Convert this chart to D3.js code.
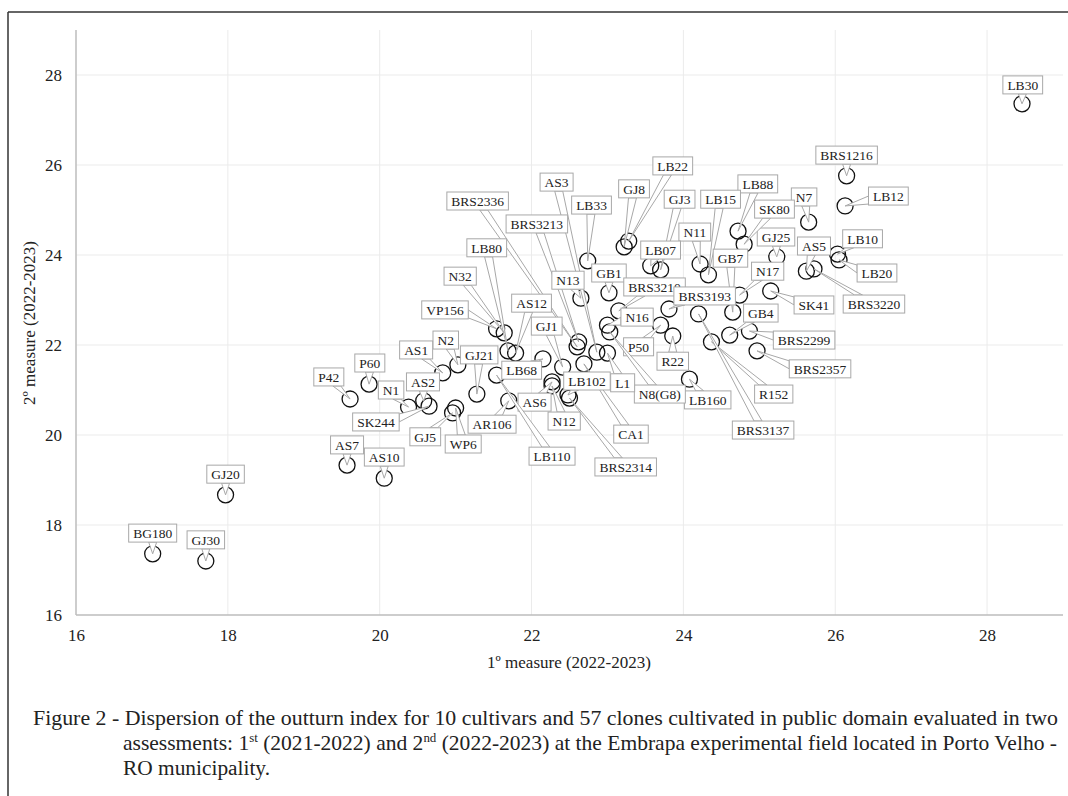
<!DOCTYPE html>
<html>
<head>
<meta charset="utf-8">
<script src="https://cdn.jsdelivr.net/npm/d3@7"></script>
<style>
  body { margin: 0; background: #fff; }
  svg text { font-family: "Liberation Serif", "Times New Roman", serif; fill: #222; }
</style>
</head>
<body>
<svg id="chart" width="1068" height="796"></svg>
<script>
// Clone / cultivar names
const clones = ["LB30","BRS1216","LB12","N7","LB10","LB20","AS5","BRS3220","SK41","GJ25",
  "SK80","LB88","LB15","N11","GJ3","LB07","LB22","GJ8","LB33","AS3",
  "BRS2336","BRS3213","LB80","N32","VP156","AS12","GJ1","N13","GB1","BRS3210",
  "N16","N17","GB7","BRS3193","GB4","BRS2299","BRS2357","R152","BRS3137","LB160",
  "R22","P50","N8(G8)","L1","CA1","BRS2314","LB102","N12","AS6","LB110",
  "LB68","AR106","WP6","GJ5","GJ21","N2","AS1","AS2","SK244","N1",
  "P60","P42","AS7","AS10","GJ20","BG180","GJ30"];

// 1st measure (x)
const measure1 = [28.46,26.15,26.13,25.65,26.03,26.05,25.62,25.72,25.15,25.23,
  24.80,24.72,24.33,24.22,23.70,23.57,23.28,23.22,22.74,22.86,
  22.60,22.62,21.69,21.64,21.54,21.79,22.41,22.65,23.02,23.15,
  23.00,24.74,24.65,23.81,24.61,24.87,24.97,24.37,24.20,24.08,
  23.86,23.70,23.03,23.00,22.69,22.50,22.48,22.27,22.27,21.54,
  22.15,21.70,21.00,20.96,21.28,21.03,20.83,20.58,20.65,20.38,
  19.86,19.61,19.57,20.06,17.97,17.01,17.71];

// 2nd measure (y)
const measure2 = [27.36,25.76,25.09,24.73,24.02,23.89,23.64,23.69,23.20,23.96,
  24.24,24.53,23.56,23.80,23.67,23.76,24.31,24.18,23.87,21.84,
  21.96,22.07,21.87,22.27,22.36,21.82,21.51,23.04,23.16,22.76,
  22.44,23.11,22.73,22.80,22.22,22.31,21.87,22.07,22.69,21.24,
  22.20,22.44,22.29,21.82,21.58,20.82,20.89,21.09,21.18,21.33,
  21.69,20.76,20.60,20.49,20.91,21.56,21.38,20.76,20.64,20.62,
  21.13,20.80,19.33,19.04,18.67,17.36,17.20];

// Callout label anchors, in data units
const calloutX = [28.47,26.15,26.70,25.59,26.36,26.55,25.72,26.51,25.72,25.22,
  25.20,24.98,24.49,24.15,23.95,23.70,23.86,23.35,22.79,22.33,
  21.29,22.07,21.41,21.06,20.86,22.00,22.20,22.48,23.02,23.62,
  23.39,25.11,24.62,24.28,25.02,25.59,25.80,25.19,25.05,24.32,
  23.86,23.41,23.69,23.20,23.31,23.24,22.73,22.43,22.04,22.27,
  21.87,21.48,21.10,20.60,21.31,20.87,20.48,20.57,19.95,20.15,
  19.87,19.33,19.57,20.06,17.97,17.01,17.71];
const calloutY = [27.78,26.22,25.31,25.29,24.36,23.60,24.20,22.91,22.89,24.40,
  25.02,25.58,25.24,24.51,25.24,24.11,25.98,25.47,25.11,25.62,
  25.20,24.69,24.16,23.53,22.78,22.93,22.42,23.44,23.60,23.29,
  22.62,23.64,23.93,23.09,22.71,22.11,21.47,20.91,20.11,20.78,
  21.64,21.96,20.91,21.16,20.02,19.29,21.20,20.31,20.73,19.53,
  21.44,20.24,19.80,19.96,21.78,22.11,21.89,21.18,20.29,21.00,
  21.60,21.29,19.78,19.51,19.13,17.82,17.67];

const xTicks = [16, 18, 20, 22, 24, 26, 28];
const yTicks = [16, 18, 20, 22, 24, 26, 28];

const svg = d3.select("#chart");

// Figure frame
svg.append("line").attr("x1", 8).attr("y1", 12).attr("x2", 1068).attr("y2", 12)
  .attr("stroke", "#333").attr("stroke-width", 1.5);
svg.append("line").attr("x1", 8).attr("y1", 12).attr("x2", 8).attr("y2", 796)
  .attr("stroke", "#333").attr("stroke-width", 1.5);

const x = d3.scaleLinear().domain([16, 29]).range([76, 1063]);
const y = d3.scaleLinear().domain([16, 29]).range([615, 30]);

// Gridlines
const grid = svg.append("g");
grid.selectAll(".gx").data(xTicks.slice(1)).join("line")
  .attr("x1", d => x(d)).attr("x2", d => x(d))
  .attr("y1", y(29)).attr("y2", y(16))
  .attr("stroke", "#ebebeb");
grid.selectAll(".gy").data(yTicks.slice(1)).join("line")
  .attr("x1", x(16)).attr("x2", x(29))
  .attr("y1", d => y(d)).attr("y2", d => y(d))
  .attr("stroke", "#ebebeb");

// Axes
const xAxis = svg.append("g").attr("transform", `translate(0,${y(16)})`)
  .call(d3.axisBottom(x).tickValues(xTicks).tickSize(0).tickPadding(14));
const yAxis = svg.append("g").attr("transform", `translate(${x(16)},0)`)
  .call(d3.axisLeft(y).tickValues(yTicks).tickSize(0).tickPadding(14));
[xAxis, yAxis].forEach(a => {
  a.select(".domain").attr("stroke", "#bdbdbd").attr("stroke-width", 1.5);
  a.selectAll("text").attr("font-size", 17).attr("fill", "#333")
    .attr("font-family", "'Liberation Serif', serif");
});
xAxis.select(".domain").attr("d", `M${x(16)},0H${x(29)}`);
yAxis.select(".domain").attr("d", `M0,${y(16)}V${y(29)}`);

// Axis titles
svg.append("text").attr("x", 569).attr("y", 668).attr("text-anchor", "middle")
  .attr("font-size", 17).text("1º measure (2022-2023)");
svg.append("text").attr("transform", "translate(35,323) rotate(-90)")
  .attr("text-anchor", "middle").attr("font-size", 17).text("2º measure (2022-2023)");

// Points
const pts = clones.map((name, i) => ({
  name, px: x(measure1[i]), py: y(measure2[i]), lx: x(calloutX[i]), ly: y(calloutY[i])
}));

svg.append("g").selectAll("circle").data(pts).join("circle")
  .attr("cx", d => d.px).attr("cy", d => d.py).attr("r", 8)
  .attr("fill", "none").attr("stroke", "#111").attr("stroke-width", 1.3);

// Callouts: rectangle with a wedge pointing to the point
function wedge(bx, by, w, h, px, py) {
  const cx = bx + w / 2, cy = by + h / 2;
  const dx = px - cx, dy = py - cy;
  if (Math.abs(dx) <= w / 2 && Math.abs(dy) <= h / 2) return null;
  const hw = 4;
  if (Math.abs(dy) / (h / 2) >= Math.abs(dx) / (w / 2)) {
    const ey = dy > 0 ? by + h : by;
    let ex = cx + dx * (h / 2) / Math.abs(dy);
    ex = Math.max(bx + hw + 3, Math.min(bx + w - hw - 3, ex));
    return [[ex - hw, ey], [px, py], [ex + hw, ey]];
  }
  const ex = dx > 0 ? bx + w : bx;
  let ey = cy + dy * (w / 2) / Math.abs(dx);
  ey = Math.max(by + hw + 1, Math.min(by + h - hw - 1, ey));
  return [[ex, ey - hw], [px, py], [ex, ey + hw]];
}

const callouts = svg.append("g");
pts.forEach(d => {
  const g = callouts.append("g");
  const t = g.append("text").attr("font-size", 13.5).attr("text-anchor", "middle")
    .attr("x", d.lx).attr("y", d.ly + 4.7).attr("fill", "#111").text(d.name);
  const tw = t.node().getComputedTextLength();
  const w = tw + 9, h = 18;
  const bx = d.lx - w / 2, by = d.ly - h / 2;
  const wg = wedge(bx, by, w, h, d.px, d.py);
  if (wg) {
    g.insert("path", "text").attr("d", d3.line()(wg) + "Z")
      .attr("fill", "#fff").attr("stroke", "#a8a8a8").attr("stroke-width", 1);
  }
  g.insert("rect", "text").attr("x", bx).attr("y", by).attr("width", w).attr("height", h)
    .attr("fill", "#fff").attr("stroke", "#a8a8a8").attr("stroke-width", 1);
});

// Caption
const cap = svg.append("text").attr("font-size", 20).attr("fill", "#111");
cap.append("tspan").attr("x", 33).attr("y", 725)
  .attr("textLength", 1025).attr("lengthAdjust", "spacingAndGlyphs")
  .text("Figure 2 - Dispersion of the outturn index for 10 cultivars and 57 clones cultivated in public domain evaluated in two");
const l2 = svg.append("text").attr("font-size", 20).attr("fill", "#111")
  .attr("x", 123).attr("y", 750);
l2.append("tspan").text("assessments: 1");
l2.append("tspan").attr("font-size", 12).attr("dy", -8).text("st");
l2.append("tspan").attr("dy", 8).text(" (2021-2022) and 2");
l2.append("tspan").attr("font-size", 12).attr("dy", -8).text("nd");
l2.append("tspan").attr("dy", 8).text(" (2022-2023) at the Embrapa experimental field located in Porto Velho -");
// stretch line 2 to the reference width
const l2w = l2.node().getComputedTextLength();
l2.attr("transform", `translate(123,0) scale(${935 / l2w},1) translate(-123,0)`);
svg.append("text").attr("font-size", 20).attr("fill", "#111")
  .attr("x", 123).attr("y", 775).attr("textLength", 147).attr("lengthAdjust", "spacingAndGlyphs")
  .text("RO municipality.");
</script>
</body>
</html>
